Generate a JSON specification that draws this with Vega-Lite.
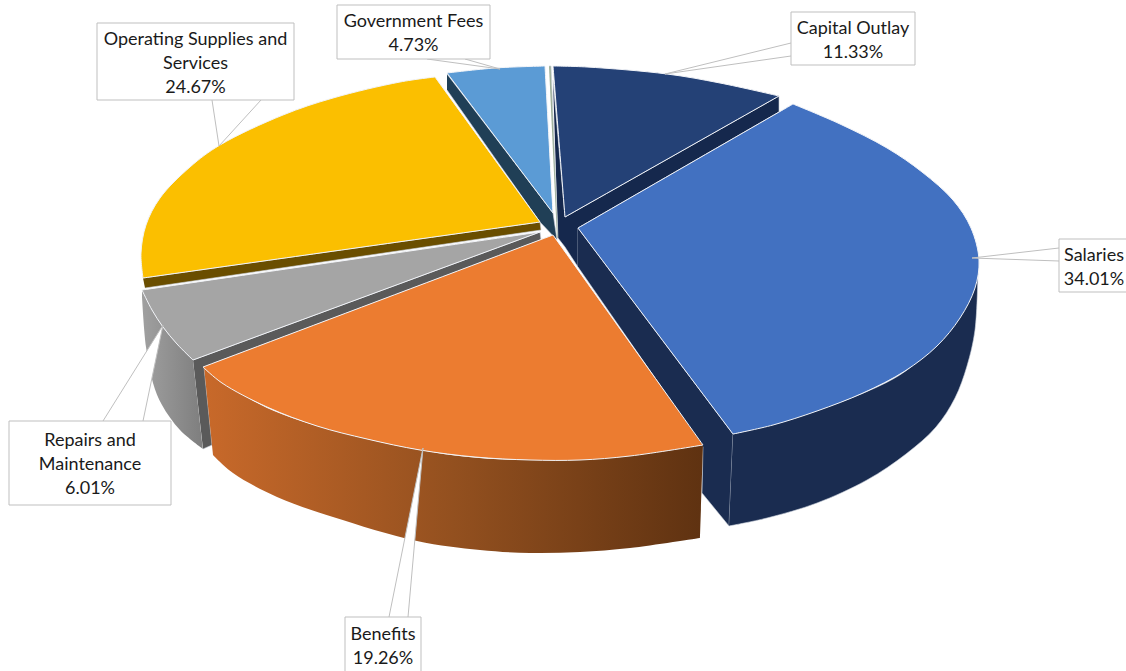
{
  "$schema": "https://vega.github.io/schema/vega-lite/v6.json",
  "width": 1126,
  "height": 671,
  "autosize": {"type": "none"},
  "padding": 0,
  "background": "white",
  "view": {"stroke": null},
  "datasets": {
    "outlines": [
      {"face":"Government inner","part":"side","i":1,"x":447,"y":74},{"face":"Government inner","part":"side","i":2,"x":553,"y":213},{"face":"Government inner","part":"side","i":3,"x":557,"y":240},{"face":"Government inner","part":"side","i":4,"x":540,"y":222},{"face":"Government inner","part":"side","i":5,"x":447,"y":90},
      {"face":"Capital inner","part":"side","i":1,"x":553,"y":80},{"face":"Capital inner","part":"side","i":2,"x":565,"y":217},{"face":"Capital inner","part":"side","i":3,"x":779,"y":96},{"face":"Capital inner","part":"side","i":4,"x":779,"y":112},{"face":"Capital inner","part":"side","i":5,"x":578,"y":228},{"face":"Capital inner","part":"side","i":6,"x":578,"y":267},{"face":"Capital inner","part":"side","i":7,"x":565,"y":247},{"face":"Capital inner","part":"side","i":8,"x":558,"y":238},
      {"face":"Sliver","part":"side","i":1,"x":549,"y":66},{"face":"Sliver","part":"side","i":2,"x":551,"y":66},{"face":"Sliver","part":"side","i":3,"x":558,"y":238},{"face":"Sliver","part":"side","i":4,"x":557,"y":238},
      {"face":"Operating inner","part":"side","i":1,"x":143,"y":278},{"face":"Operating inner","part":"side","i":2,"x":540,"y":222},{"face":"Operating inner","part":"side","i":3,"x":541,"y":230},{"face":"Operating inner","part":"side","i":4,"x":145,"y":288},
      {"face":"Repairs inner","part":"side","i":1,"x":193,"y":360},{"face":"Repairs inner","part":"side","i":2,"x":540,"y":232},{"face":"Repairs inner","part":"side","i":3,"x":541,"y":240},{"face":"Repairs inner","part":"side","i":4,"x":204,"y":367},{"face":"Repairs inner","part":"side","i":5,"x":212,"y":445},{"face":"Repairs inner","part":"side","i":6,"x":203,"y":449},
      {"face":"Salaries inner","part":"side","i":1,"x":578,"y":228},{"face":"Salaries inner","part":"side","i":2,"x":733,"y":434},{"face":"Salaries inner","part":"side","i":3,"x":729,"y":526},{"face":"Salaries inner","part":"side","i":4,"x":702,"y":493},{"face":"Salaries inner","part":"side","i":5,"x":703,"y":447},{"face":"Salaries inner","part":"side","i":6,"x":578,"y":267},

      {"face":"Salaries outer","part":"navy","i":1,"x":733,"y":434},{"face":"Salaries outer","part":"navy","i":2,"x":733,"y":434},{"face":"Salaries outer","part":"navy","i":3,"x":907,"y":370},{"face":"Salaries outer","part":"navy","i":4,"x":978,"y":270},{"face":"Salaries outer","part":"navy","i":5,"x":978,"y":270},{"face":"Salaries outer","part":"navy","i":6,"x":975,"y":330},{"face":"Salaries outer","part":"navy","i":7,"x":967,"y":366},{"face":"Salaries outer","part":"navy","i":8,"x":955,"y":398},{"face":"Salaries outer","part":"navy","i":9,"x":936,"y":427},{"face":"Salaries outer","part":"navy","i":10,"x":906,"y":454},{"face":"Salaries outer","part":"navy","i":11,"x":867,"y":480},{"face":"Salaries outer","part":"navy","i":12,"x":817,"y":503},{"face":"Salaries outer","part":"navy","i":13,"x":767,"y":518},{"face":"Salaries outer","part":"navy","i":14,"x":729,"y":526},{"face":"Salaries outer","part":"navy","i":15,"x":729,"y":526},

      {"face":"Repairs outer","part":"grey","i":1,"x":142,"y":290},{"face":"Repairs outer","part":"grey","i":2,"x":142,"y":290},{"face":"Repairs outer","part":"grey","i":3,"x":163,"y":327},{"face":"Repairs outer","part":"grey","i":4,"x":193,"y":360},{"face":"Repairs outer","part":"grey","i":5,"x":193,"y":360},{"face":"Repairs outer","part":"grey","i":6,"x":203,"y":449},{"face":"Repairs outer","part":"grey","i":7,"x":203,"y":449},{"face":"Repairs outer","part":"grey","i":8,"x":180,"y":430},{"face":"Repairs outer","part":"grey","i":9,"x":162,"y":405},{"face":"Repairs outer","part":"grey","i":10,"x":153,"y":383},{"face":"Repairs outer","part":"grey","i":11,"x":146,"y":347},{"face":"Repairs outer","part":"grey","i":12,"x":142,"y":297},{"face":"Repairs outer","part":"grey","i":13,"x":142,"y":297},

      {"face":"Benefits outer","part":"orange","i":1,"x":204,"y":367},{"face":"Benefits outer","part":"orange","i":2,"x":204,"y":367},{"face":"Benefits outer","part":"orange","i":3,"x":267,"y":408},{"face":"Benefits outer","part":"orange","i":4,"x":420,"y":450},{"face":"Benefits outer","part":"orange","i":5,"x":530,"y":460},{"face":"Benefits outer","part":"orange","i":6,"x":703,"y":445},{"face":"Benefits outer","part":"orange","i":7,"x":703,"y":445},{"face":"Benefits outer","part":"orange","i":8,"x":700,"y":538},{"face":"Benefits outer","part":"orange","i":9,"x":700,"y":538},{"face":"Benefits outer","part":"orange","i":10,"x":630,"y":548},{"face":"Benefits outer","part":"orange","i":11,"x":580,"y":552},{"face":"Benefits outer","part":"orange","i":12,"x":530,"y":553},{"face":"Benefits outer","part":"orange","i":13,"x":480,"y":550},{"face":"Benefits outer","part":"orange","i":14,"x":417,"y":541},{"face":"Benefits outer","part":"orange","i":15,"x":333,"y":517},{"face":"Benefits outer","part":"orange","i":16,"x":277,"y":497},{"face":"Benefits outer","part":"orange","i":17,"x":233,"y":473},{"face":"Benefits outer","part":"orange","i":18,"x":213,"y":455},{"face":"Benefits outer","part":"orange","i":19,"x":213,"y":455},

      {"face":"Repairs top","part":"top","i":1,"x":540,"y":232},{"face":"Repairs top","part":"top","i":2,"x":540,"y":232},{"face":"Repairs top","part":"top","i":3,"x":142,"y":290},{"face":"Repairs top","part":"top","i":4,"x":142,"y":290},{"face":"Repairs top","part":"top","i":5,"x":152,"y":310},{"face":"Repairs top","part":"top","i":6,"x":163,"y":327},{"face":"Repairs top","part":"top","i":7,"x":177,"y":344},{"face":"Repairs top","part":"top","i":8,"x":193,"y":360},{"face":"Repairs top","part":"top","i":9,"x":193,"y":360},{"face":"Repairs top","part":"top","i":10,"x":540,"y":232},{"face":"Repairs top","part":"top","i":11,"x":540,"y":232},

      {"face":"Operating top","part":"top","i":1,"x":540,"y":222},{"face":"Operating top","part":"top","i":2,"x":540,"y":222},{"face":"Operating top","part":"top","i":3,"x":435,"y":77},{"face":"Operating top","part":"top","i":4,"x":435,"y":77},{"face":"Operating top","part":"top","i":5,"x":400,"y":82},{"face":"Operating top","part":"top","i":6,"x":333,"y":98},{"face":"Operating top","part":"top","i":7,"x":283,"y":115},{"face":"Operating top","part":"top","i":8,"x":220,"y":145},{"face":"Operating top","part":"top","i":9,"x":190,"y":167},{"face":"Operating top","part":"top","i":10,"x":160,"y":198},{"face":"Operating top","part":"top","i":11,"x":146,"y":225},{"face":"Operating top","part":"top","i":12,"x":141,"y":253},{"face":"Operating top","part":"top","i":13,"x":143,"y":278},{"face":"Operating top","part":"top","i":14,"x":143,"y":278},{"face":"Operating top","part":"top","i":15,"x":540,"y":222},{"face":"Operating top","part":"top","i":16,"x":540,"y":222},

      {"face":"Government top","part":"top","i":1,"x":447,"y":73},{"face":"Government top","part":"top","i":2,"x":447,"y":73},{"face":"Government top","part":"top","i":3,"x":495,"y":68},{"face":"Government top","part":"top","i":4,"x":545,"y":66},{"face":"Government top","part":"top","i":5,"x":545,"y":66},{"face":"Government top","part":"top","i":6,"x":553,"y":213},{"face":"Government top","part":"top","i":7,"x":553,"y":213},{"face":"Government top","part":"top","i":8,"x":447,"y":73},{"face":"Government top","part":"top","i":9,"x":447,"y":73},

      {"face":"Capital top","part":"top","i":1,"x":553,"y":66},{"face":"Capital top","part":"top","i":2,"x":553,"y":66},{"face":"Capital top","part":"top","i":3,"x":587,"y":67},{"face":"Capital top","part":"top","i":4,"x":667,"y":74},{"face":"Capital top","part":"top","i":5,"x":720,"y":83},{"face":"Capital top","part":"top","i":6,"x":779,"y":96},{"face":"Capital top","part":"top","i":7,"x":779,"y":96},{"face":"Capital top","part":"top","i":8,"x":565,"y":217},{"face":"Capital top","part":"top","i":9,"x":565,"y":217},{"face":"Capital top","part":"top","i":10,"x":553,"y":66},{"face":"Capital top","part":"top","i":11,"x":553,"y":66},

      {"face":"Salaries top","part":"top","i":1,"x":578,"y":228},{"face":"Salaries top","part":"top","i":2,"x":578,"y":228},{"face":"Salaries top","part":"top","i":3,"x":793,"y":104},{"face":"Salaries top","part":"top","i":4,"x":793,"y":104},{"face":"Salaries top","part":"top","i":5,"x":840,"y":124},{"face":"Salaries top","part":"top","i":6,"x":887,"y":148},{"face":"Salaries top","part":"top","i":7,"x":922,"y":172},{"face":"Salaries top","part":"top","i":8,"x":953,"y":200},{"face":"Salaries top","part":"top","i":9,"x":971,"y":228},{"face":"Salaries top","part":"top","i":10,"x":979,"y":260},{"face":"Salaries top","part":"top","i":11,"x":975,"y":288},{"face":"Salaries top","part":"top","i":12,"x":960,"y":318},{"face":"Salaries top","part":"top","i":13,"x":937,"y":346},{"face":"Salaries top","part":"top","i":14,"x":905,"y":371},{"face":"Salaries top","part":"top","i":15,"x":863,"y":393},{"face":"Salaries top","part":"top","i":16,"x":817,"y":411},{"face":"Salaries top","part":"top","i":17,"x":773,"y":425},{"face":"Salaries top","part":"top","i":18,"x":733,"y":434},{"face":"Salaries top","part":"top","i":19,"x":733,"y":434},{"face":"Salaries top","part":"top","i":20,"x":578,"y":228},{"face":"Salaries top","part":"top","i":21,"x":578,"y":228},

      {"face":"Benefits top","part":"top","i":1,"x":553,"y":235},{"face":"Benefits top","part":"top","i":2,"x":553,"y":235},{"face":"Benefits top","part":"top","i":3,"x":203,"y":367},{"face":"Benefits top","part":"top","i":4,"x":203,"y":367},{"face":"Benefits top","part":"top","i":5,"x":222,"y":383},{"face":"Benefits top","part":"top","i":6,"x":267,"y":407},{"face":"Benefits top","part":"top","i":7,"x":317,"y":426},{"face":"Benefits top","part":"top","i":8,"x":367,"y":439},{"face":"Benefits top","part":"top","i":9,"x":420,"y":450},{"face":"Benefits top","part":"top","i":10,"x":475,"y":457},{"face":"Benefits top","part":"top","i":11,"x":530,"y":460},{"face":"Benefits top","part":"top","i":12,"x":580,"y":460},{"face":"Benefits top","part":"top","i":13,"x":630,"y":456},{"face":"Benefits top","part":"top","i":14,"x":703,"y":445},{"face":"Benefits top","part":"top","i":15,"x":703,"y":445},{"face":"Benefits top","part":"top","i":16,"x":553,"y":235},{"face":"Benefits top","part":"top","i":17,"x":553,"y":235}
    ],
    "leaders": [
      {"slice":"Operating Supplies and Services","i":1,"x":212,"y":100},{"slice":"Operating Supplies and Services","i":2,"x":219,"y":146},{"slice":"Operating Supplies and Services","i":3,"x":261,"y":100},
      {"slice":"Government Fees","i":1,"x":427,"y":59},{"slice":"Government Fees","i":2,"x":500,"y":69},{"slice":"Government Fees","i":3,"x":465,"y":59},
      {"slice":"Capital Outlay","i":1,"x":791,"y":43},{"slice":"Capital Outlay","i":2,"x":665,"y":74},{"slice":"Capital Outlay","i":3,"x":791,"y":56},
      {"slice":"Salaries","i":1,"x":1059,"y":248},{"slice":"Salaries","i":2,"x":972,"y":258},{"slice":"Salaries","i":3,"x":1059,"y":261},
      {"slice":"Repairs and Maintenance","i":1,"x":103,"y":421},{"slice":"Repairs and Maintenance","i":2,"x":163,"y":325},{"slice":"Repairs and Maintenance","i":3,"x":143,"y":421},
      {"slice":"Benefits","i":1,"x":389,"y":617},{"slice":"Benefits","i":2,"x":423,"y":448},{"slice":"Benefits","i":3,"x":408,"y":617}
    ],
    "callouts": [
      {"slice":"Salaries","share":34.01,"label":"Salaries\n34.01%","x1":1059,"x2":1129,"y1":239,"y2":292},
      {"slice":"Capital Outlay","share":11.33,"label":"Capital Outlay\n11.33%","x1":791,"x2":915,"y1":12,"y2":65},
      {"slice":"Government Fees","share":4.73,"label":"Government Fees\n4.73%","x1":337,"x2":490,"y1":5,"y2":59},
      {"slice":"Operating Supplies and Services","share":24.67,"label":"Operating Supplies and\nServices\n24.67%","x1":97,"x2":294,"y1":23,"y2":100},
      {"slice":"Repairs and Maintenance","share":6.01,"label":"Repairs and\nMaintenance\n6.01%","x1":9,"x2":171,"y1":421,"y2":505},
      {"slice":"Benefits","share":19.26,"label":"Benefits\n19.26%","x1":345,"x2":421,"y1":617,"y2":673}
    ]
  },
  "layer": [
    {
      "data": {"name": "outlines"},
      "transform": [{"filter": "datum.part === 'side'"}],
      "mark": {"type": "line", "strokeWidth": 0.6, "stroke": "#c9d0da"},
      "encoding": {
        "x": {"field": "x", "type": "quantitative", "axis": null, "scale": {"domain": [0, 1126], "nice": false}},
        "y": {"field": "y", "type": "quantitative", "axis": null, "scale": {"domain": [0, 671], "nice": false, "reverse": true}},
        "order": {"field": "i", "type": "quantitative"},
        "fill": {
          "field": "face", "type": "nominal", "legend": null,
          "scale": {
            "domain": ["Government inner", "Capital inner", "Sliver", "Operating inner", "Repairs inner", "Salaries inner", "Salaries outer", "Repairs top", "Operating top", "Government top", "Capital top", "Salaries top", "Benefits top"],
            "range": ["#203f56", "#15284d", "#9fb09a", "#6a4e00", "#5a5a5a", "#1a2c50", "#1a2c50", "#a5a5a5", "#fbbf00", "#5b9bd5", "#244176", "#4271c1", "#ec7c30"]
          }
        }
      }
    },
    {
      "data": {"name": "outlines"},
      "transform": [{"filter": "datum.part === 'navy'"}],
      "mark": {"type": "line", "interpolate": "catmull-rom", "strokeWidth": 0.6, "stroke": "#c9d0da"},
      "encoding": {
        "x": {"field": "x", "type": "quantitative"},
        "y": {"field": "y", "type": "quantitative"},
        "order": {"field": "i", "type": "quantitative"},
        "fill": {"field": "face", "type": "nominal", "legend": null}
      }
    },
    {
      "data": {"name": "outlines"},
      "transform": [{"filter": "datum.part === 'grey'"}],
      "mark": {"type": "line", "interpolate": "catmull-rom", "strokeWidth": 0, "fill": {"gradient": "linear", "x1": 0, "x2": 1, "y1": 0, "y2": 0, "stops": [{"offset": 0, "color": "#a0a0a0"}, {"offset": 1, "color": "#7e7e7e"}]}},
      "encoding": {
        "x": {"field": "x", "type": "quantitative"},
        "y": {"field": "y", "type": "quantitative"},
        "order": {"field": "i", "type": "quantitative"}
      }
    },
    {
      "data": {"name": "outlines"},
      "transform": [{"filter": "datum.part === 'orange'"}],
      "mark": {"type": "line", "interpolate": "catmull-rom", "strokeWidth": 0, "fill": {"gradient": "linear", "x1": 0, "x2": 1, "y1": 0, "y2": 0, "stops": [{"offset": 0, "color": "#c8692a"}, {"offset": 0.5, "color": "#93501f"}, {"offset": 1, "color": "#5f3211"}]}},
      "encoding": {
        "x": {"field": "x", "type": "quantitative"},
        "y": {"field": "y", "type": "quantitative"},
        "order": {"field": "i", "type": "quantitative"}
      }
    },
    {
      "data": {"name": "outlines"},
      "transform": [{"filter": "datum.part === 'top'"}],
      "mark": {"type": "line", "interpolate": "catmull-rom", "strokeWidth": 1, "stroke": "#f2f4f8"},
      "encoding": {
        "x": {"field": "x", "type": "quantitative"},
        "y": {"field": "y", "type": "quantitative"},
        "order": {"field": "i", "type": "quantitative"},
        "fill": {"field": "face", "type": "nominal", "legend": null}
      }
    },
    {
      "data": {"name": "leaders"},
      "mark": {"type": "line", "fill": "white", "stroke": "#bfbfbf", "strokeWidth": 1},
      "encoding": {
        "x": {"field": "x", "type": "quantitative"},
        "y": {"field": "y", "type": "quantitative"},
        "order": {"field": "i", "type": "quantitative"},
        "detail": {"field": "slice"}
      }
    },
    {
      "data": {"name": "callouts"},
      "mark": {"type": "rect", "fill": "white", "stroke": "#bfbfbf", "strokeWidth": 1},
      "encoding": {
        "x": {"field": "x1", "type": "quantitative"},
        "x2": {"field": "x2"},
        "y": {"field": "y1", "type": "quantitative"},
        "y2": {"field": "y2"}
      }
    },
    {
      "data": {"name": "callouts"},
      "transform": [
        {"calculate": "(datum.x1 + datum.x2) / 2", "as": "cx"},
        {"calculate": "(datum.y1 + datum.y2) / 2 + 2 - 12 * (length(split(datum.label, '\\n')) - 1)", "as": "firstLine"}
      ],
      "mark": {"type": "text", "font": "Lato", "fontSize": 18, "lineBreak": "\n", "lineHeight": 24, "align": "center", "baseline": "middle", "color": "#1a1a1a"},
      "encoding": {
        "x": {"field": "cx", "type": "quantitative"},
        "y": {"field": "firstLine", "type": "quantitative"},
        "text": {"field": "label"}
      }
    }
  ]
}
